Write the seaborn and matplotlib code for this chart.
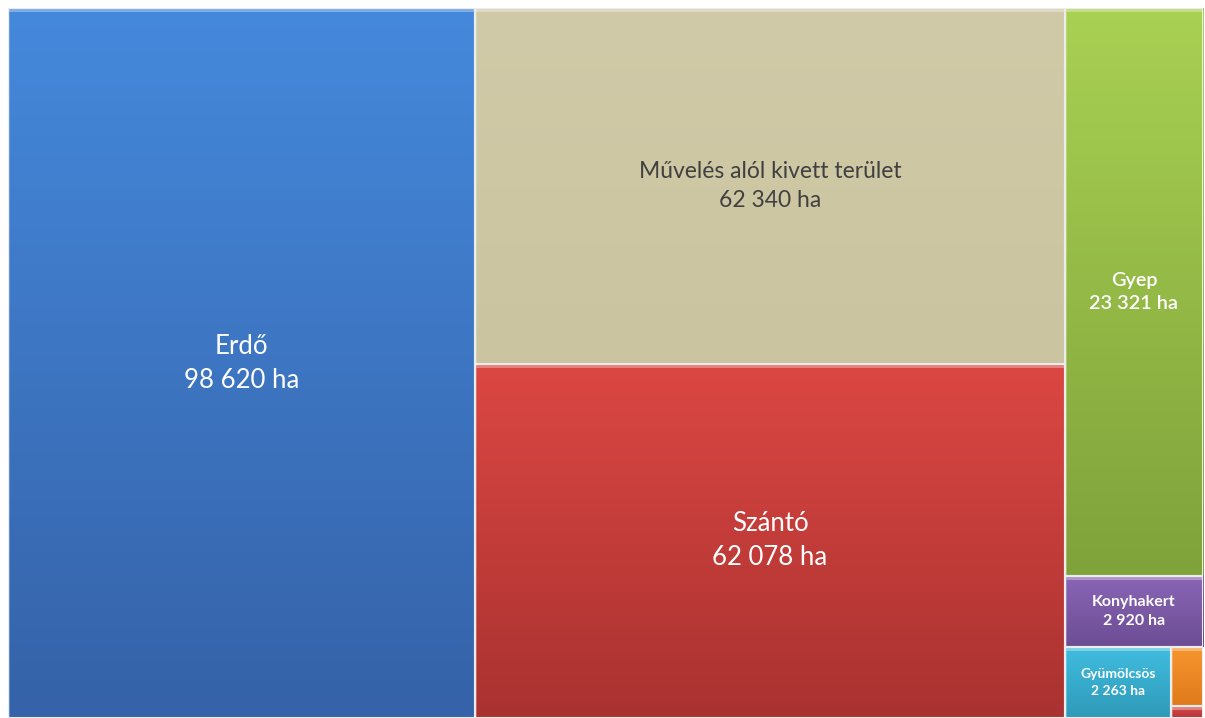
import matplotlib
matplotlib.use("Agg")
import matplotlib.pyplot as plt
import numpy as np
import seaborn as sns
from matplotlib.colors import LinearSegmentedColormap, to_rgb
from matplotlib.patches import Rectangle

# land use categories (ha)
categories = ["Erdő", "Művelés alól kivett terület", "Szántó", "Gyep",
              "Konyhakert", "Gyümölcsös", "Szőlő", "Nádas"]
areas = [98620, 62340, 62078, 23321, 2920, 2263, 560, 110]
labels = ["Erdő\n98 620 ha", "Művelés alól kivett terület\n62 340 ha",
          "Szántó\n62 078 ha", "Gyep\n23 321 ha", "Konyhakert\n2 920 ha",
          "Gyümölcsös\n2 263 ha", "", ""]

top_colors = ["#4589dc", "#d1caa8", "#dc4743", "#a9d153", "#8a66b6", "#40bde0", "#f7962f", "#d9494a"]
bot_colors = ["#3562a8", "#cbc4a0", "#a93230", "#7fa23a", "#6c4d93", "#2f9ab8", "#e07a1c", "#b53636"]
text_colors = ["white", "#404040", "white", "white", "white", "white", "white", "white"]
font_sizes = [18.5, 16.5, 18.5, 14.3, 11.5, 10, 9, 9]
font_weights = ["normal", "normal", "normal", "semibold", "bold", "bold", "bold", "bold"]

# nesting of the treemap: "h" splits side by side, "v" stacks top to bottom
tree = ("h", [0, ("v", [1, 2]), ("v", [3, 4, ("h", [5, ("v", [6, 7])])])])


def total(node):
    if isinstance(node, int):
        return areas[node]
    return sum(total(c) for c in node[1])


def layout(node, x0, y0, x1, y1, out):
    if isinstance(node, int):
        out[node] = (x0, y0, x1, y1)
        return
    kind, children = node
    s = total(node)
    if kind == "h":
        x = x0
        for c in children:
            w = (x1 - x0) * total(c) / s
            layout(c, x, y0, x + w, y1, out)
            x += w
    else:
        y = y1
        for c in children:
            h = (y1 - y0) * total(c) / s
            layout(c, x0, y - h, x1, y, out)
            y -= h


rects = {}
layout(tree, 0, 0, 1, 1, rects)

sns.set_theme(style="white")
plt.rcParams["font.family"] = ["Lato", "DejaVu Sans"]

W, H = 1205, 718
fig = plt.figure(figsize=(W / 100, H / 100), dpi=100)
fig.patch.set_facecolor("white")
ax = fig.add_axes([8 / W, 0, 1195 / W, 710 / H])
ax.set_xlim(0, 1)
ax.set_ylim(0, 1)
ax.axis("off")

px_x = 1 / 1195
px_y = 1 / 710
grad = np.linspace(0, 1, 256).reshape(-1, 1)

for i, (x0, y0, x1, y1) in rects.items():
    cmap = LinearSegmentedColormap.from_list("g", [top_colors[i], bot_colors[i]])
    ax.imshow(grad, extent=(x0, x1, y0, y1), origin="upper", cmap=cmap,
              aspect="auto", zorder=1, interpolation="bilinear")
    # bevel highlight on top and left
    light = tuple(min(1, c * 0.55 + 0.45) for c in to_rgb(top_colors[i]))
    ax.add_patch(Rectangle((x0, y1 - 4 * px_y), x1 - x0, 4 * px_y,
                           facecolor=light, edgecolor="none", alpha=0.7, zorder=2))
    ax.add_patch(Rectangle((x0, y0), 2 * px_x, y1 - y0,
                           facecolor=light, edgecolor="none", alpha=0.4, zorder=2))
    ax.add_patch(Rectangle((x0, y0), x1 - x0, y1 - y0, facecolor="none",
                           edgecolor="#ececec", linewidth=1.5, zorder=3))
    if labels[i]:
        ax.text((x0 + x1) / 2, y0 + (y1 - y0) * 0.5, labels[i], ha="center", va="center",
                color=text_colors[i], fontsize=font_sizes[i], fontweight=font_weights[i],
                linespacing=1.45, zorder=4)

fig.savefig("out.png", dpi=100)
